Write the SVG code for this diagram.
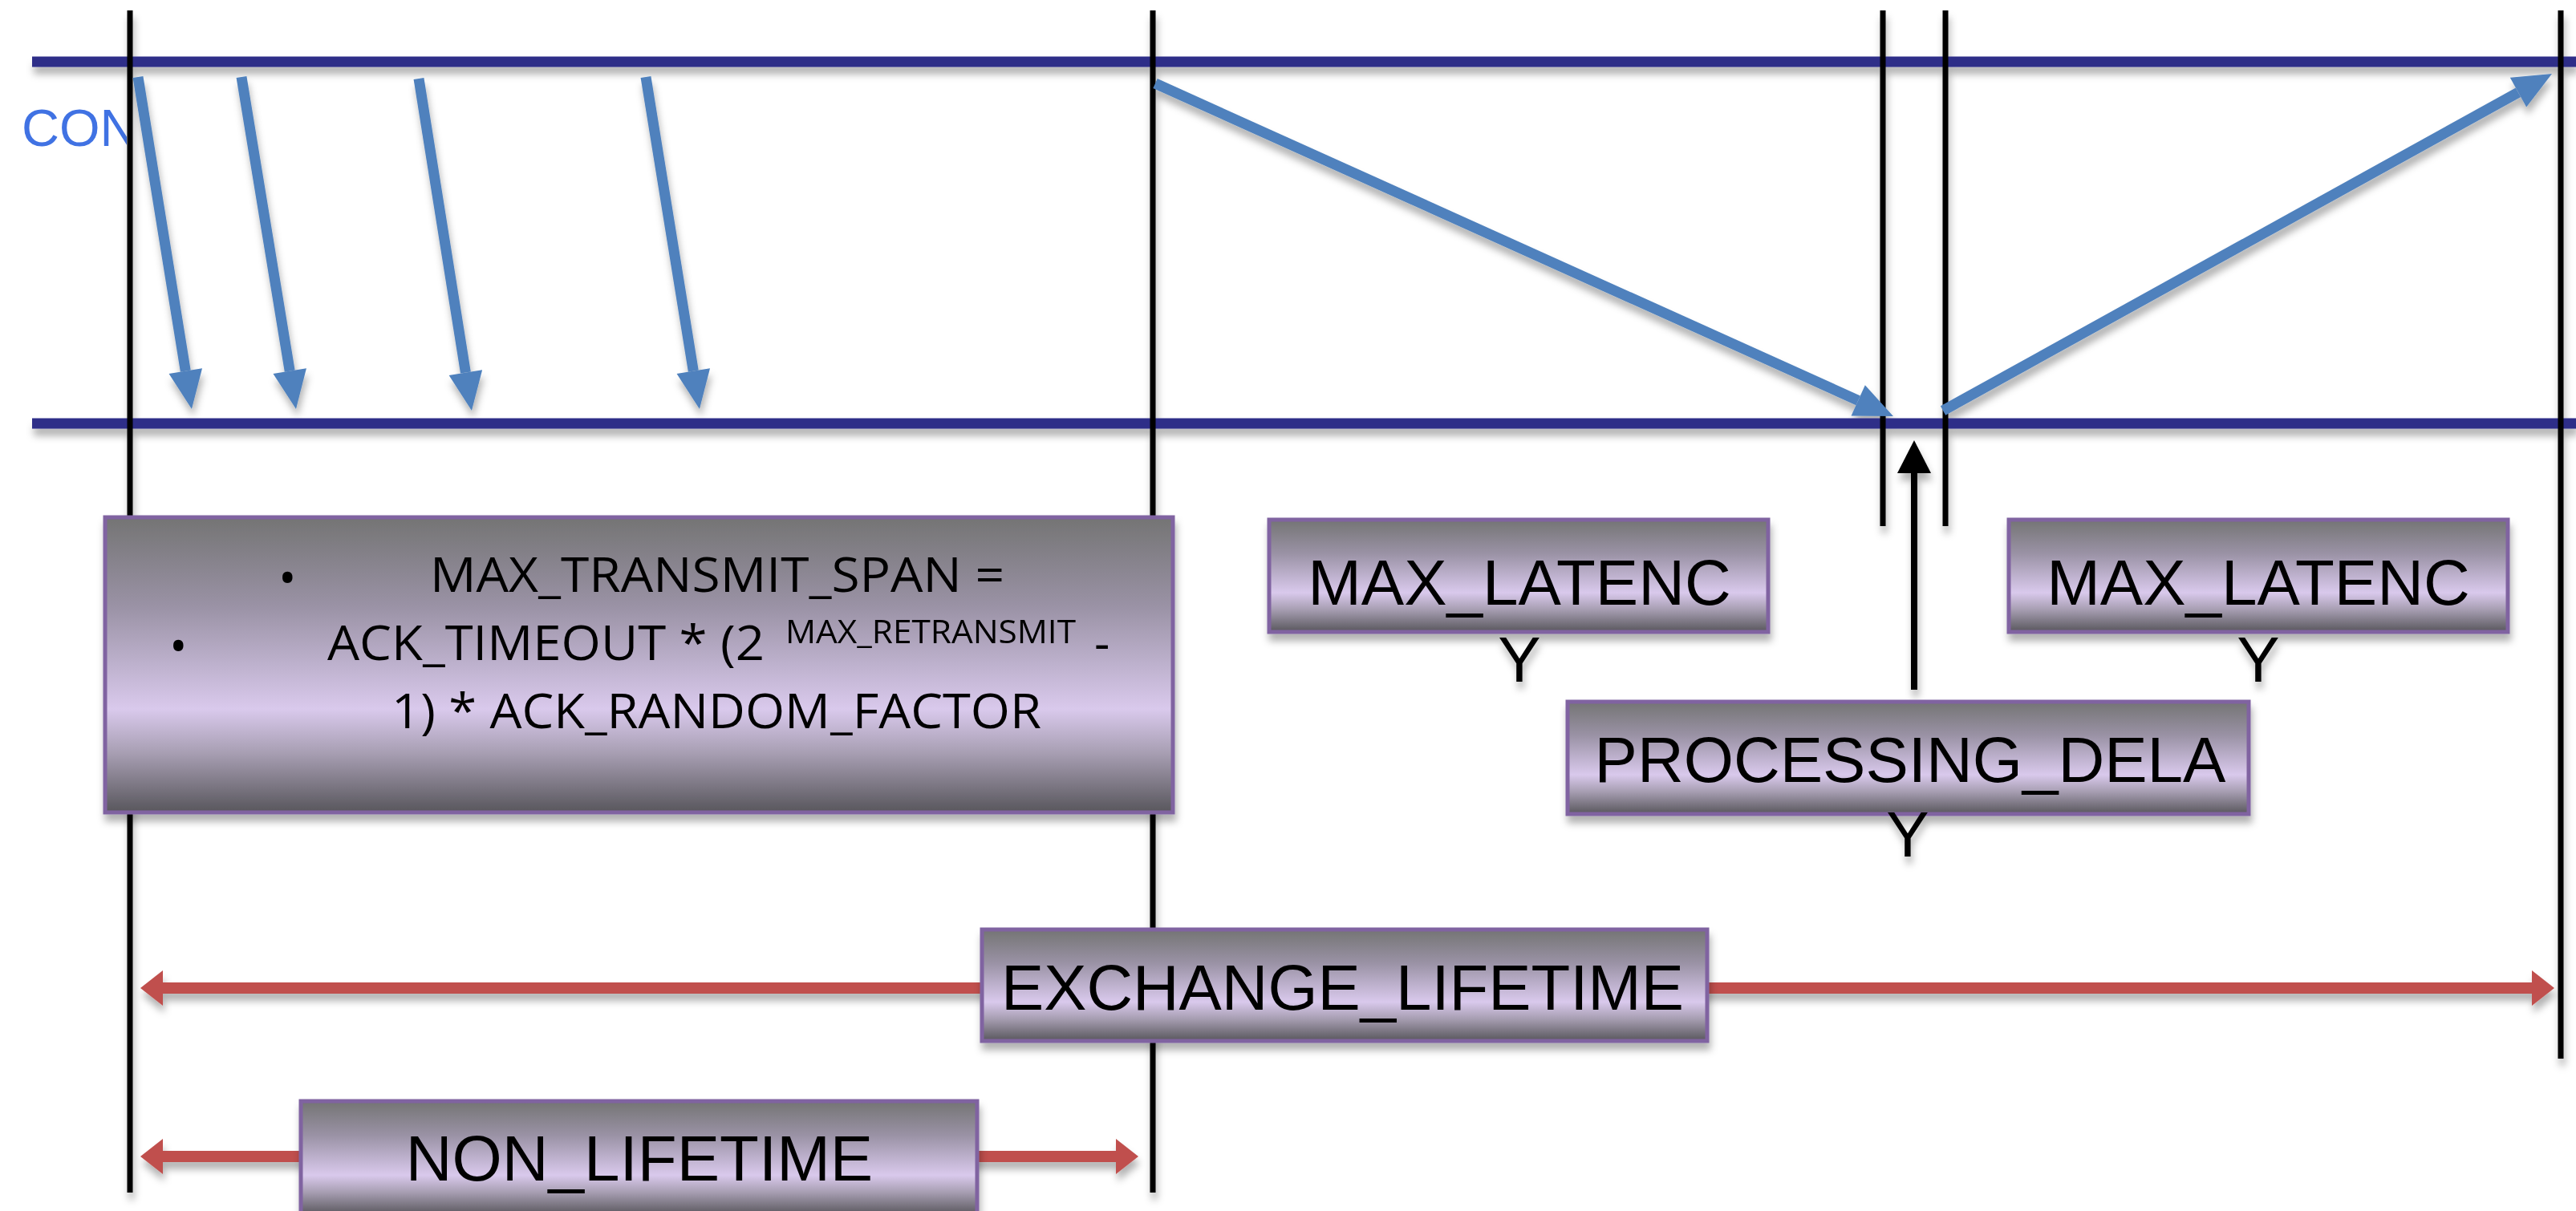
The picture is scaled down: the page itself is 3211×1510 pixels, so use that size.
<svg xmlns="http://www.w3.org/2000/svg" width="3211" height="1510" viewBox="0 0 3211 1510">
<style>
.tl{fill:none;stroke:#2e2d88;stroke-width:13}
.vl{fill:none;stroke:#000;stroke-width:7}
.blue{fill:none;stroke:#4f81bd;stroke-width:13;marker-end:url(#mb)}
.red{fill:none;stroke:#c0504d;stroke-width:14;marker-start:url(#mrs);marker-end:url(#mre)}
.box{fill:url(#g);stroke:#8063a1;stroke-width:5}
.lbl{font-family:"Liberation Sans",Arial,sans-serif;font-size:80px;fill:#000}
.big{font-family:"Open Sans","Liberation Sans",sans-serif;font-size:60px;fill:#000}
.sh{filter:url(#ds)}
</style>
<defs>
<linearGradient id="g" x1="0" y1="0" x2="0" y2="1">
<stop offset="0" stop-color="#747474"/>
<stop offset="0.3" stop-color="#9a92a5"/>
<stop offset="0.65" stop-color="#d9c9ec"/>
<stop offset="0.8" stop-color="#a79eb2"/>
<stop offset="1" stop-color="#58565c"/>
</linearGradient>
<filter id="ds" x="-10%" y="-10%" width="120%" height="130%">
<feDropShadow dx="2" dy="9" stdDeviation="5" flood-color="#000" flood-opacity="0.3"/>
</filter>
<marker id="mb" markerUnits="userSpaceOnUse" markerWidth="60" markerHeight="60" refX="0" refY="21" orient="auto" overflow="visible">
<path d="M0,0 L48,21 L0,42 z" fill="#4f81bd"/>
</marker>
<marker id="mk" markerUnits="userSpaceOnUse" markerWidth="60" markerHeight="60" refX="0" refY="21" orient="auto" overflow="visible">
<path d="M0,0 L41,21 L0,42 z" fill="#000"/>
</marker>
<marker id="mre" markerUnits="userSpaceOnUse" markerWidth="40" markerHeight="50" refX="0" refY="22" orient="auto" overflow="visible">
<path d="M0,0 L28,22 L0,44 z" fill="#c0504d"/>
</marker>
<marker id="mrs" markerUnits="userSpaceOnUse" markerWidth="40" markerHeight="50" refX="0" refY="22" orient="auto-start-reverse" overflow="visible">
<path d="M0,0 L28,22 L0,44 z" fill="#c0504d"/>
</marker>
<clipPath id="cc"><rect x="0" y="100" width="158" height="120"/></clipPath>
</defs>
<rect width="3211" height="1510" fill="#fff"/>
<g id="con-label">
<text x="27" y="182" clip-path="url(#cc)" font-family="'Liberation Sans',Arial,sans-serif" font-size="65" fill="#4072e3">CON</text>
</g>
<g id="connectors" class="sh">
<line class="tl" x1="40" y1="77" x2="3211" y2="77"/>
<line class="tl" x1="40" y1="528" x2="3211" y2="528"/>
<line class="vl" x1="162" y1="13" x2="162" y2="1487"/>
<line class="vl" x1="1437" y1="13" x2="1437" y2="1487"/>
<line class="vl" x1="2347" y1="13" x2="2347" y2="656"/>
<line class="vl" x1="2425" y1="13" x2="2425" y2="656"/>
<line class="vl" x1="3192" y1="13" x2="3192" y2="1320"/>
<line class="blue" x1="172" y1="96" x2="231.3" y2="462.6"/>
<line class="blue" x1="301" y1="96" x2="361.2" y2="462.6"/>
<line class="blue" x1="522" y1="98" x2="580.4" y2="464.6"/>
<line class="blue" x1="805" y1="96" x2="864.3" y2="462.6"/>
<line class="blue" x1="1440" y1="104" x2="2316.2" y2="499.3"/>
<line class="blue" x1="2422" y1="512" x2="3139" y2="115.2"/>
<line x1="2386" y1="860" x2="2386" y2="590" stroke="#000" stroke-width="8" marker-end="url(#mk)"/>
<line class="red" x1="203" y1="1232" x2="3156" y2="1232"/>
<line class="red" x1="203" y1="1442" x2="1391" y2="1442"/>
</g>
<g id="max-transmit-span" class="sh">
<rect class="box" x="131" y="645" width="1331" height="368"/>
<text class="big" x="347" y="742" font-size="76">•</text>
<text class="big" x="536" y="738" textLength="716" lengthAdjust="spacingAndGlyphs">MAX_TRANSMIT_SPAN =</text>
<text class="big" x="211" y="827" font-size="76">•</text>
<text class="big" x="408" y="823"><tspan textLength="545" lengthAdjust="spacingAndGlyphs">ACK_TIMEOUT * (2</tspan><tspan x="979" y="802" font-size="40" textLength="362" lengthAdjust="spacingAndGlyphs">MAX_RETRANSMIT</tspan><tspan x="1364" y="823">-</tspan></text>
<text class="big" x="488" y="908" textLength="810" lengthAdjust="spacingAndGlyphs">1) * ACK_RANDOM_FACTOR</text>
</g>
<g id="max-latency-1" class="sh">
<rect class="box" x="1582" y="648" width="622" height="140"/>
<text class="lbl" x="1894" y="754" text-anchor="middle">MAX_LATENC</text>
<text class="lbl" x="1894" y="850" text-anchor="middle">Y</text>
</g>
<g id="max-latency-2" class="sh">
<rect class="box" x="2504" y="648" width="622" height="140"/>
<text class="lbl" x="2815" y="754" text-anchor="middle">MAX_LATENC</text>
<text class="lbl" x="2815" y="850" text-anchor="middle">Y</text>
</g>
<g id="processing-delay" class="sh">
<rect class="box" x="1954" y="875" width="849" height="140"/>
<text class="lbl" x="2381" y="975" text-anchor="middle">PROCESSING_DELA</text>
<text class="lbl" x="2378" y="1068" text-anchor="middle">Y</text>
</g>
<g id="exchange-lifetime" class="sh">
<rect class="box" x="1224" y="1159" width="904" height="139"/>
<text class="lbl" x="1248" y="1259" textLength="851" lengthAdjust="spacingAndGlyphs">EXCHANGE_LIFETIME</text>
</g>
<g id="non-lifetime" class="sh">
<rect class="box" x="375" y="1373" width="843" height="142"/>
<text class="lbl" x="797" y="1472" text-anchor="middle">NON_LIFETIME</text>
</g>
</svg>
